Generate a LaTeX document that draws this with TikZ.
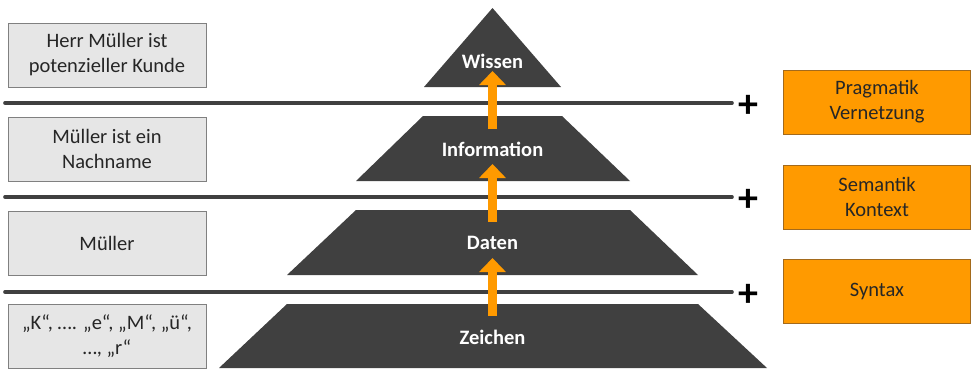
\documentclass[tikz,border=0pt]{standalone}
\usepackage{fontspec}
\setmainfont{Carlito}
\usetikzlibrary{arrows.meta}
\definecolor{pyr}{HTML}{404040}
\definecolor{org}{HTML}{FF9A00}
\definecolor{orgborder}{HTML}{A36A1C}
\definecolor{graybox}{HTML}{E6E6E6}
\definecolor{grayborder}{HTML}{808080}
\definecolor{txt}{HTML}{262626}
\tikzset{
  exbox/.style={draw=grayborder, line width=0.9pt, fill=graybox, minimum width=198pt, minimum height=64pt,
    align=center, text=txt, font=\fontsize{20.5}{25}\selectfont, inner sep=0pt},
  addbox/.style={draw=orgborder, line width=0.9pt, fill=org, minimum width=187pt, minimum height=64pt,
    align=center, text=txt, font=\fontsize{20.5}{25}\selectfont, inner sep=0pt},
  layer/.style={fill=pyr},
  layertext/.style={text=white, font=\fontsize{20.5}{25}\selectfont\bfseries, inner sep=0pt},
  sepline/.style={draw=pyr, line width=3.6pt, line cap=round},
  plussign/.style={text=black, font=\fontsize{40}{40}\selectfont\bfseries, inner sep=0pt},
  uparrow/.style={draw=org, line width=9pt, -{Triangle[length=14pt,width=26pt]}}
}
\begin{document}
\begin{tikzpicture}[x=1pt,y=-1pt]
\useasboundingbox (0,0) rectangle (971,370);
% separator lines
\coordinate (l1a) at (5,103); \coordinate (l1b) at (732,103);
\coordinate (l2a) at (5,197); \coordinate (l2b) at (732,197);
\coordinate (l3a) at (5,292); \coordinate (l3b) at (732,292);
\draw[sepline] (l1a) -- (l1b);
\draw[sepline] (l2a) -- (l2b);
\draw[sepline] (l3a) -- (l3b);
% pyramid layers
\fill[layer] (492.5,8) -- (561,87) -- (424,87) -- cycle;
\fill[layer] (423,116) -- (562,116) -- (630,181) -- (356,181) -- cycle;
\fill[layer] (356,210) -- (630,210) -- (698,275) -- (287,275) -- cycle;
\fill[layer] (287,304) -- (698,304) -- (767,368) -- (219,368) -- cycle;
\node[layertext] (wissen) at (492.5,61) {Wissen};
\node[layertext] (information) at (492.5,149) {Information};
\node[layertext] (daten) at (492.5,243) {Daten};
\node[layertext] (zeichen) at (492.5,337) {Zeichen};
% arrows
\coordinate (a1s) at (492.5,129); \coordinate (a1e) at (492.5,71);
\coordinate (a2s) at (492.5,222); \coordinate (a2e) at (492.5,164);
\coordinate (a3s) at (492.5,316); \coordinate (a3e) at (492.5,258);
\draw[uparrow] (a1s) -- (a1e);
\draw[uparrow] (a2s) -- (a2e);
\draw[uparrow] (a3s) -- (a3e);
% example boxes
\node[exbox] (ex1) at (107,55) {Herr Müller ist\\potenzieller Kunde};
\node[exbox] (ex2) at (107,149) {Müller ist ein\\Nachname};
\node[exbox] (ex3) at (107,243) {Müller};
\node[exbox] (ex4) at (107,336) {„K“, …. „e“, „M“, „ü“,\\…, „r“};
% plus signs
\node[plussign] (p1) at (748,106) {+};
\node[plussign] (p2) at (748,200) {+};
\node[plussign] (p3) at (748,295) {+};
% added aspects
\node[addbox] (pr) at (877,102) {Pragmatik\\Vernetzung};
\node[addbox] (se) at (877,197) {Semantik\\Kontext};
\node[addbox] (sy) at (877,291) {Syntax};
\end{tikzpicture}
\end{document}
